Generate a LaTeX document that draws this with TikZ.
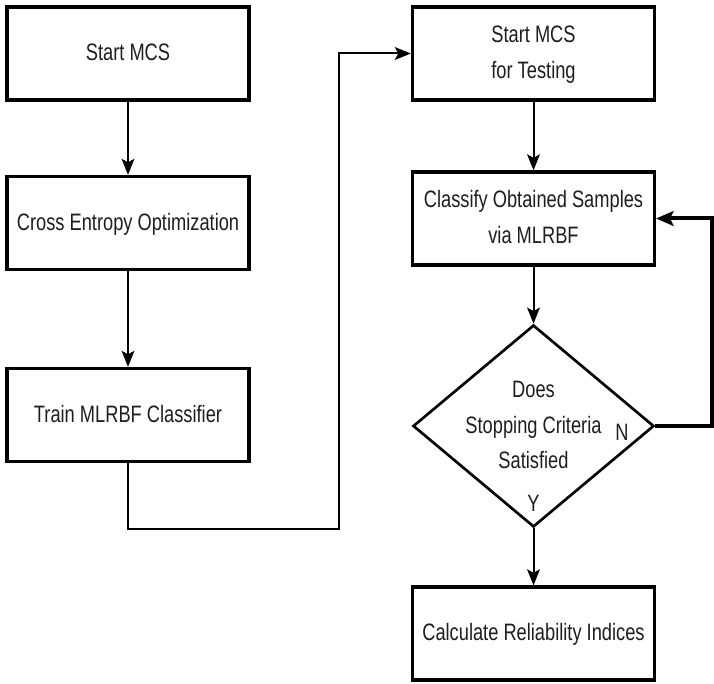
\documentclass[tikz,border=0pt]{standalone}
\usepackage{fontspec}
\setmainfont{Liberation Sans}
\usetikzlibrary{shapes.geometric,arrows.meta}
\newcommand{\tx}[1]{\scalebox{1}[1.3]{\begin{tabular}{@{}c@{}}#1\end{tabular}}}
\definecolor{txtc}{RGB}{30,30,30}
\tikzset{
  procbox/.style={draw=black,line width=2.4pt,minimum width=181.5pt,minimum height=69.75pt,inner sep=0pt,text=txtc,
    font=\fontsize{13.7pt}{20.2pt}\selectfont},
  decbox/.style={draw=black,line width=2pt,shape=diamond,minimum width=180.75pt,minimum height=151.5pt,inner sep=0pt},
  lbl/.style={text=txtc,inner sep=0pt,font=\fontsize{13.7pt}{20.2pt}\selectfont},
  conn/.style={draw=black,line width=1.5pt,-{Stealth[length=12pt,width=9.5pt,inset=2.5pt]}},
  thickconn/.style={draw=black,line width=3pt,-{Stealth[length=13pt,width=11pt,inset=2.5pt]}}
}
\begin{document}
\begin{tikzpicture}[x=0.75pt,y=-0.75pt]
\useasboundingbox (0,0) rectangle (714,684);
\node[procbox] (s1) at (128,53.5) {\tx{Start MCS}};
\node[procbox] (s2) at (128,223) {\tx{Cross Entropy Optimization}};
\node[procbox] (s3) at (128,415) {\tx{Train MLRBF Classifier}};
\node[procbox] (r1) at (533.5,53.5) {\raisebox{2pt}{\tx{Start MCS\\for Testing}}};
\node[procbox] (r2) at (533.5,218.5) {\tx{Classify Obtained Samples\\via MLRBF}};
\node[decbox] (d) at (533.5,426) {};
\node[lbl] (dt) at (533.5,426) {\tx{Does\\Stopping Criteria\\Satisfied}};
\node[lbl] (nl) at (622,432) {\scalebox{1}[1.3]{N}};
\node[lbl] (yl) at (533.5,503) {\scalebox{1}[1.3]{Y}};
\node[procbox] (r4) at (533.5,633.5) {\tx{Calculate Reliability Indices}};
\coordinate (c1) at (339,529);
\coordinate (c2) at (712,426);
\draw[conn] (s1) -- (s2);
\draw[conn] (s2) -- (s3);
\draw[conn] (s3.south) |- (c1) |- (r1.west);
\draw[conn] (r1) -- (r2);
\draw[conn] (r2.south) -- (d.north);
\draw[conn] (d.south) -- (r4.north);
\draw[thickconn] (d.east) -- (c2) |- (r2.east);
\end{tikzpicture}
\end{document}
